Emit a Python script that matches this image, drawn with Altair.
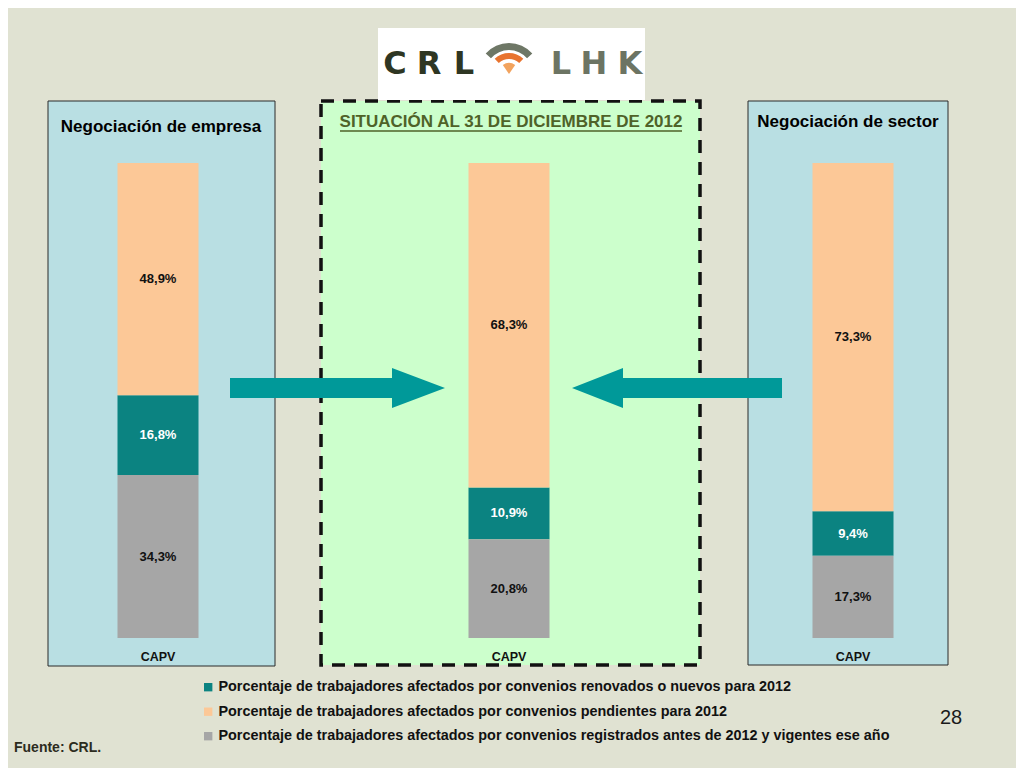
import altair as alt
import pandas as pd

# ---------------- data ----------------
panel_titles = ["Negociación de empresa", "SITUACIÓN AL 31 DE DICIEMBRE DE 2012", "Negociación de sector"]
category = "CAPV"
series = [
    "Porcentaje de trabajadores afectados por convenios renovados o nuevos para 2012",
    "Porcentaje de trabajadores afectados por convenios pendientes para 2012",
    "Porcentaje de trabajadores afectados por convenios registrados antes de 2012 y vigentes ese año",
]
renovados = [16.8, 10.9, 9.4]
pendientes = [48.9, 68.3, 73.3]
registrados = [34.3, 20.8, 17.3]
stack_order = [1, 2, 0]  # position in the stack (0 = bottom)

colors = ["#0B8381", "#FCC897", "#A6A6A6"]
FONT = "Liberation Sans, Arial, sans-serif"

rows = []
for i in range(3):
    for s, vals, o in zip(series, [renovados, pendientes, registrados], stack_order):
        rows.append({"idx": i, "serie": s, "value": vals[i], "ord": o})
df = pd.DataFrame(rows)

# page coordinate -> chart coordinate (page has 8px margin)
def P(v):
    return v - 8

one = pd.DataFrame({"k": [0]})

xenc = alt.X("idx:Q", scale=alt.Scale(domain=[0, 1, 2], range=[P(158), P(509), P(853)],
                                      nice=False, zero=False, padding=0), axis=None)
yscale = alt.Scale(domain=[0, 100], range=[P(638), P(163)], nice=False, zero=False, padding=0)

layers = []

def rect(x1, x2, y1, y2, **kw):
    return alt.Chart(one).mark_rect(**kw).encode(
        x=alt.value(P(x1)), x2=alt.value(P(x2)), y=alt.value(P(y1)), y2=alt.value(P(y2)))

def text(s, x, y, **kw):
    return alt.Chart(one).mark_text(text=s, **kw).encode(x=alt.value(P(x)), y=alt.value(P(y)))

# panels
layers.append(rect(48, 275, 101, 666, fill="#B9DFE3", stroke="#2A2A2A", strokeWidth=1))
layers.append(rect(748, 948, 101, 665, fill="#B9DFE3", stroke="#2A2A2A", strokeWidth=1))
layers.append(rect(321, 700, 101, 665, fill="#CCFFCC", stroke="#111111", strokeWidth=3.5, strokeDash=[13, 9]))

# logo
layers.append(rect(378, 645, 28, 100, fill="#FFFFFF"))
for ch, cx, col in [("C", 395, "#2E3623"), ("R", 429, "#2E3623"), ("L", 464, "#2E3623"),
                    ("L", 561, "#6C7463"), ("H", 594, "#6C7463"), ("K", 630, "#6C7463")]:
    layers.append(text(ch, cx, 64, font="DejaVu Sans", fontWeight="bold", fontSize=32,
                       color=col, align="center", baseline="middle"))
for r1, r2, half, col in [(31, 24, 0.85, "#6E7766"), (21, 15, 0.75, "#E8732E"), (11, 0, 0.6, "#F2A35E")]:
    layers.append(alt.Chart(one).mark_arc(color=col).encode(
        x=alt.value(P(509)), y=alt.value(P(74)),
        radius=alt.value(r1), radius2=alt.value(r2),
        theta=alt.value(6.2832 - half), theta2=alt.value(6.2832 + half)))

# panel titles
layers.append(text(panel_titles[0], 161, 127, font=FONT, fontWeight="bold", fontSize=17,
                   color="#000000", align="center", baseline="middle"))
layers.append(text(panel_titles[1], 511, 122, font=FONT, fontWeight="bold", fontSize=17,
                   color="#4F6228", align="center", baseline="middle"))
layers.append(alt.Chart(one).mark_rule(color="#4F6228", strokeWidth=1.4).encode(
    x=alt.value(P(340)), x2=alt.value(P(682)), y=alt.value(P(131))))
layers.append(text(panel_titles[2], 848, 122, font=FONT, fontWeight="bold", fontSize=17,
                   color="#000000", align="center", baseline="middle"))

# bars
base = alt.Chart(df).transform_stack(
    stack="value", groupby=["idx"], as_=["v0", "v1"], sort=[alt.SortField("ord", order="ascending")])
bars = base.mark_bar(size=81).encode(
    x=xenc,
    y=alt.Y("v0:Q", scale=yscale, axis=None),
    y2="v1:Q",
    color=alt.Color("serie:N", scale=alt.Scale(domain=series, range=colors),
                    legend=alt.Legend(title=None, orient="none", legendX=P(201), legendY=P(680),
                                      symbolType="square", symbolSize=70, symbolStrokeWidth=0,
                                      labelFont=FONT, labelFontSize=14.4, labelFontWeight="bold",
                                      labelColor="#111111", labelLimit=0, labelOffset=3,
                                      rowPadding=9.5, padding=0)),
)
layers.append(bars)

labels = base.transform_calculate(
    mid="(datum.v0 + datum.v1) / 2",
    lab="replace(format(datum.value, '.1f'), '.', ',') + '%'",
).mark_text(font=FONT, fontWeight="bold", fontSize=13, baseline="middle", align="center").encode(
    x=xenc,
    y=alt.Y("mid:Q", scale=yscale, axis=None),
    text="lab:N",
    color=alt.condition("datum.ord == 1", alt.value("#FFFFFF"), alt.value("#111111")),
)
layers.append(labels)

cat_df = pd.DataFrame({"idx": [0, 1, 2], "cat": [category] * 3})
layers.append(alt.Chart(cat_df).mark_text(font=FONT, fontWeight="bold", fontSize=12.5,
                                          baseline="middle", align="center", color="#111111").encode(
    x=xenc, y=alt.value(P(657)), text="cat:N"))

# arrows
left_arrow = "M-107.5,-10 L54.5,-10 L54.5,-20 L107.5,0 L54.5,20 L54.5,10 L-107.5,10 Z"
right_arrow = "M-105,0 L-54,-20 L-54,-10 L105,-10 L105,10 L-54,10 L-54,20 Z"
for shape, cx in [(left_arrow, 337.5), (right_arrow, 677)]:
    layers.append(alt.Chart(one).mark_point(shape=shape, size=4, filled=True, fill="#009999",
                                            strokeWidth=0, opacity=1).encode(
        x=alt.value(P(cx)), y=alt.value(P(388))))

# footer texts
layers.append(text("28", 951, 718, font=FONT, fontSize=20, color="#1A1A1A", align="center", baseline="middle"))
layers.append(text("Fuente: CRL.", 14, 748, font=FONT, fontWeight="bold", fontSize=14,
                   color="#2C2C1E", align="left", baseline="middle"))

chart = alt.layer(*layers).properties(
    width=P(1016), height=P(776), padding=0, autosize="none", background="#E0E2D2"
).configure_view(stroke=None)

chart.save("out.html", embed_options={"renderer": "svg", "actions": False})
